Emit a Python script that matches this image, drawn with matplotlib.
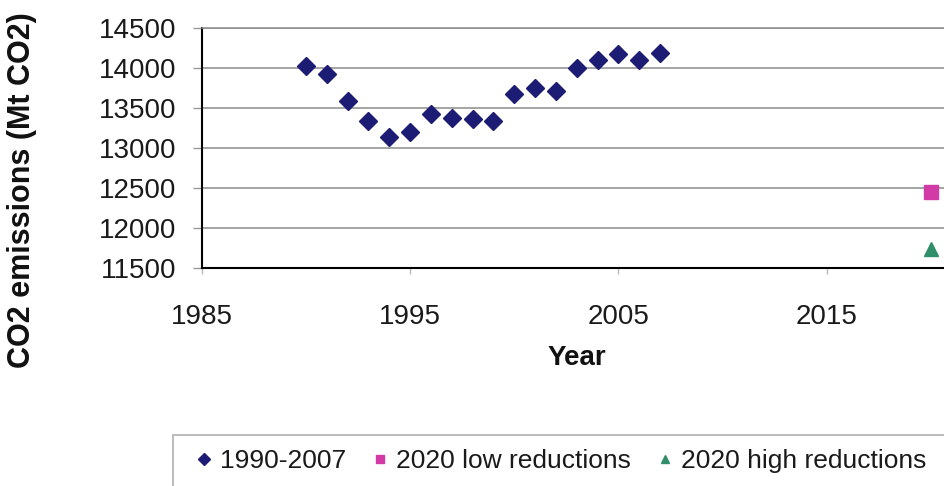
import matplotlib
matplotlib.use("Agg")
import matplotlib.pyplot as plt
from matplotlib.patches import Rectangle

plt.rcParams['font.family'] = ['Liberation Sans', 'DejaVu Sans']

# annual emissions, Mt CO2
years = [1990, 1991, 1992, 1993, 1994, 1995, 1996, 1997, 1998,
         1999, 2000, 2001, 2002, 2003, 2004, 2005, 2006, 2007]
emissions = [14020, 13920, 13590, 13340, 13140, 13200, 13420, 13380, 13360,
             13340, 13680, 13750, 13710, 14000, 14100, 14170, 14100, 14190]

# 2020 scenarios
target_year = [2020]
low_reductions = [12450]
high_reductions = [11740]

series_labels = ['1990-2007', '2020 low reductions', '2020 high reductions']
xticks = [1985, 1995, 2005, 2015]
yticks = [11500, 12000, 12500, 13000, 13500, 14000, 14500]

W, H = 944, 486
fig = plt.figure(figsize=(W / 100, H / 100), dpi=100)
ax = fig.add_axes([201.7 / W, 218 / H, (1035 - 201.7) / W, 240 / H])

h1, = ax.plot(years, emissions, linestyle='none', marker='D', markersize=9,
              color='#1c1c74', label=series_labels[0])
h2, = ax.plot(target_year, low_reductions, linestyle='none', marker='s',
              markersize=9.5, color='#d23aa5', label=series_labels[1])
h3, = ax.plot(target_year, high_reductions, linestyle='none', marker='^',
              markersize=9.5, color='#2f8f6a', label=series_labels[2])

ax.set_xlim(1985, 2025)
ax.set_ylim(11500, 14500)
ax.set_xticks(xticks)
ax.set_yticks(yticks)
ax.grid(axis='y', color='#8c8c8c', linewidth=1.1)
ax.set_axisbelow(True)

ax.spines['right'].set_visible(False)
ax.spines['top'].set_color('#8c8c8c')
ax.spines['top'].set_linewidth(1.1)
ax.spines['left'].set_linewidth(1.5)
ax.spines['bottom'].set_linewidth(1.5)

ax.tick_params(axis='x', length=4, width=1, color='#bbbbbb', pad=22,
               labelsize=20, labelcolor='#1a1a1a')
ax.tick_params(axis='y', length=6.5, width=1, color='#999999', pad=12,
               labelsize=20, labelcolor='#1a1a1a')

fig.text(577 / W, 1 - 358 / H, 'Year', ha='center', va='center',
         fontsize=20, fontweight='bold', color='#111111')
fig.text(22 / W, 1 - 190 / H, 'CO2 emissions (Mt CO2)', ha='center',
         va='center', rotation=90, fontsize=22, fontweight='bold',
         color='#111111')

# legend box runs off the bottom right corner
fig.patches.append(Rectangle((173 / W, -0.1), 1.0, 1.1 - 435 / H,
                             transform=fig.transFigure, facecolor='white',
                             edgecolor='#b0b0b0', linewidth=1.2))
leg = fig.legend(handles=[h1, h2, h3], loc='center left',
                 bbox_to_anchor=(196 / W, 1 - 461 / H), ncol=3,
                 frameon=False, fontsize=19, markerscale=0.65,
                 handlelength=0.6, handletextpad=0.3, columnspacing=1.0,
                 borderpad=0, borderaxespad=0)
for t in leg.get_texts():
    t.set_color('#1a1a1a')

fig.savefig('out.png', dpi=100)
